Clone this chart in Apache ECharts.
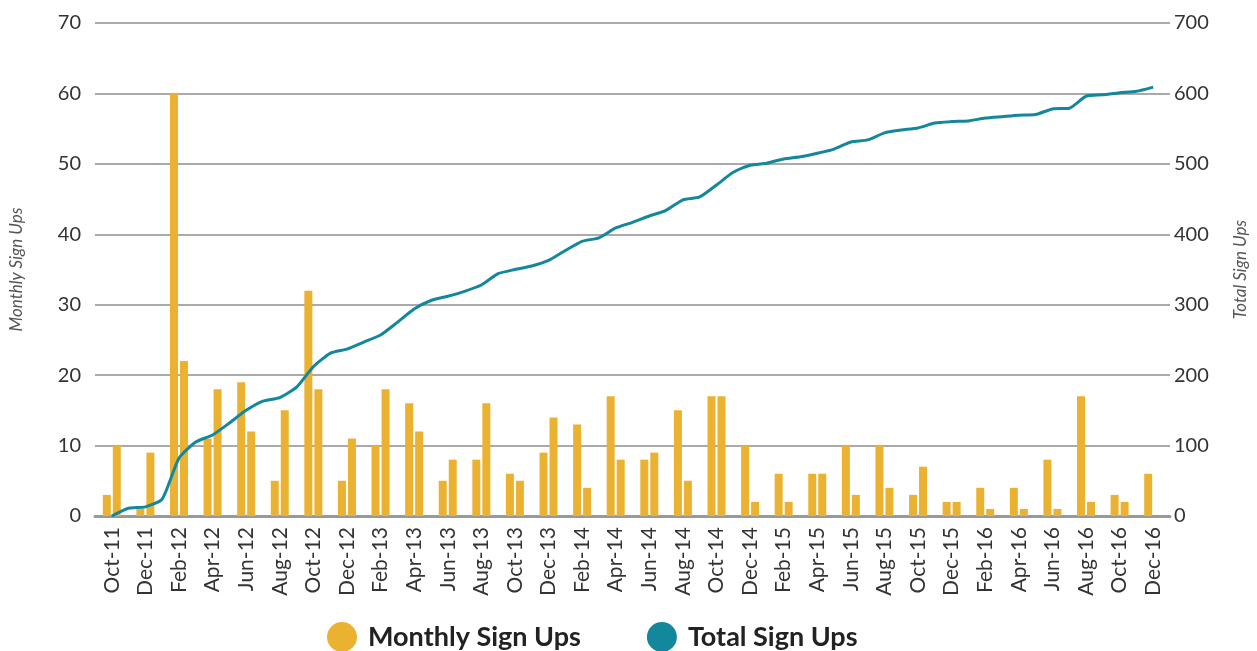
<!DOCTYPE html>
<html>
<head>
<meta charset="utf-8">
<title>Sign Ups</title>
<script src="https://cdn.jsdelivr.net/npm/echarts@6/dist/echarts.min.js"></script>
<style>
  html, body { margin: 0; padding: 0; background: #fff; }
  #chart { width: 1257px; height: 651px; }
</style>
</head>
<body>
<div id="chart"></div>
<script>
// months Oct-11 .. Dec-16
const months = [
  'Oct-11', 'Nov-11', 'Dec-11',
  'Jan-12', 'Feb-12', 'Mar-12', 'Apr-12', 'May-12', 'Jun-12', 'Jul-12', 'Aug-12', 'Sep-12', 'Oct-12', 'Nov-12', 'Dec-12',
  'Jan-13', 'Feb-13', 'Mar-13', 'Apr-13', 'May-13', 'Jun-13', 'Jul-13', 'Aug-13', 'Sep-13', 'Oct-13', 'Nov-13', 'Dec-13',
  'Jan-14', 'Feb-14', 'Mar-14', 'Apr-14', 'May-14', 'Jun-14', 'Jul-14', 'Aug-14', 'Sep-14', 'Oct-14', 'Nov-14', 'Dec-14',
  'Jan-15', 'Feb-15', 'Mar-15', 'Apr-15', 'May-15', 'Jun-15', 'Jul-15', 'Aug-15', 'Sep-15', 'Oct-15', 'Nov-15', 'Dec-15',
  'Jan-16', 'Feb-16', 'Mar-16', 'Apr-16', 'May-16', 'Jun-16', 'Jul-16', 'Aug-16', 'Sep-16', 'Oct-16', 'Nov-16', 'Dec-16'
]

const monthlySignUps = [
  3, 10, 1,
  9, 60, 22, 11, 18, 19, 12, 5, 15, 32, 18, 5,
  11, 10, 18, 16, 12, 5, 8, 8, 16, 6, 5, 9,
  14, 13, 4, 17, 8, 8, 9, 15, 5, 17, 17, 10,
  2, 6, 2, 6, 6, 10, 3, 10, 4, 3, 7, 2,
  2, 4, 1, 4, 1, 8, 1, 17, 2, 3, 2, 6
]

const totalSignUps = [
  0, 11, 13,
  24, 82, 105, 115, 132, 150, 163, 168, 183, 212, 231, 237,
  247, 257, 275, 294, 306, 312, 319, 328, 344, 350, 355, 363,
  377, 390, 395, 409, 417, 426, 434, 449, 453, 470, 488, 498,
  501, 507, 510, 515, 521, 531, 534, 544, 548, 551, 558, 560,
  561, 565, 567, 569, 570, 578, 579, 596, 598, 601, 603, 609
]

const leftTicks = { min: 0, max: 70, interval: 10 }
const rightTicks = { min: 0, max: 700, interval: 100 }

// bars come in pairs under every second month label
const pairLabels = months.filter((m, i) => i % 2 === 0)
const firstOfPair = monthlySignUps.filter((v, i) => i % 2 === 0)
const secondOfPair = pairLabels.map((m, k) => {
  const v = monthlySignUps[k * 2 + 1]
  return v === undefined ? '-' : v
})

const BAR = '#ebb232'
const LINE = '#13879b'
const FONT = 'Lato'

const chart = echarts.init(document.getElementById('chart'))

const option = {
  backgroundColor: '#fff',
  animation: false,
  textStyle: { fontFamily: FONT },
  grid: { left: 88, right: 78, top: 23, bottom: 135 },
  legend: {
    left: 322,
    top: 617,
    icon: 'circle',
    itemWidth: 30,
    itemHeight: 30,
    itemGap: 66,
    textStyle: { fontFamily: FONT, fontSize: 27, fontWeight: 'bold', color: '#222', padding: [0, 0, 0, 6] },
    data: ['Monthly Sign Ups', 'Total Sign Ups']
  },
  xAxis: [
    {
      type: 'category',
      data: pairLabels,
      axisLine: { lineStyle: { color: '#999', width: 3 } },
      axisTick: { show: false },
      axisLabel: {
        rotate: 90,
        interval: 0,
        margin: 11,
        fontSize: 21,
        color: '#333',
        fontFamily: FONT
      }
    },
    {
      type: 'value',
      min: -1,
      max: 63,
      show: false
    }
  ],
  yAxis: [
    {
      type: 'value',
      ...leftTicks,
      name: 'Monthly Sign Ups',
      nameLocation: 'middle',
      nameRotate: 90,
      nameGap: 70,
      nameTextStyle: { fontStyle: 'italic', fontSize: 17, color: '#555', fontFamily: FONT },
      axisLine: { show: false },
      axisTick: { show: false },
      axisLabel: { margin: 14, fontSize: 20, color: '#333', fontFamily: FONT },
      splitLine: { lineStyle: { color: '#aaaaaa', width: 2 } }
    },
    {
      type: 'value',
      ...rightTicks,
      position: 'right',
      name: 'Total Sign Ups',
      nameLocation: 'middle',
      nameRotate: 90,
      nameGap: 62,
      nameTextStyle: { fontStyle: 'italic', fontSize: 17, color: '#555', fontFamily: FONT },
      axisLine: { show: false },
      axisTick: { show: false },
      axisLabel: { margin: 4, fontSize: 20, color: '#333', fontFamily: FONT },
      splitLine: { show: false }
    }
  ],
  series: [
    {
      name: 'Monthly Sign Ups',
      type: 'bar',
      xAxisIndex: 0,
      yAxisIndex: 0,
      data: firstOfPair,
      barWidth: 8,
      barGap: '25%',
      itemStyle: { color: BAR }
    },
    {
      name: 'Monthly Sign Ups',
      type: 'bar',
      xAxisIndex: 0,
      yAxisIndex: 0,
      data: secondOfPair,
      barWidth: 8,
      barGap: '25%',
      itemStyle: { color: BAR }
    },
    {
      name: 'Total Sign Ups',
      type: 'line',
      xAxisIndex: 1,
      yAxisIndex: 1,
      data: totalSignUps.map((v, i) => [i, v]),
      smooth: 0.2,
      symbol: 'none',
      lineStyle: { color: LINE, width: 3 },
      itemStyle: { color: LINE }
    }
  ]
}

chart.setOption(option)
</script>
</body>
</html>
